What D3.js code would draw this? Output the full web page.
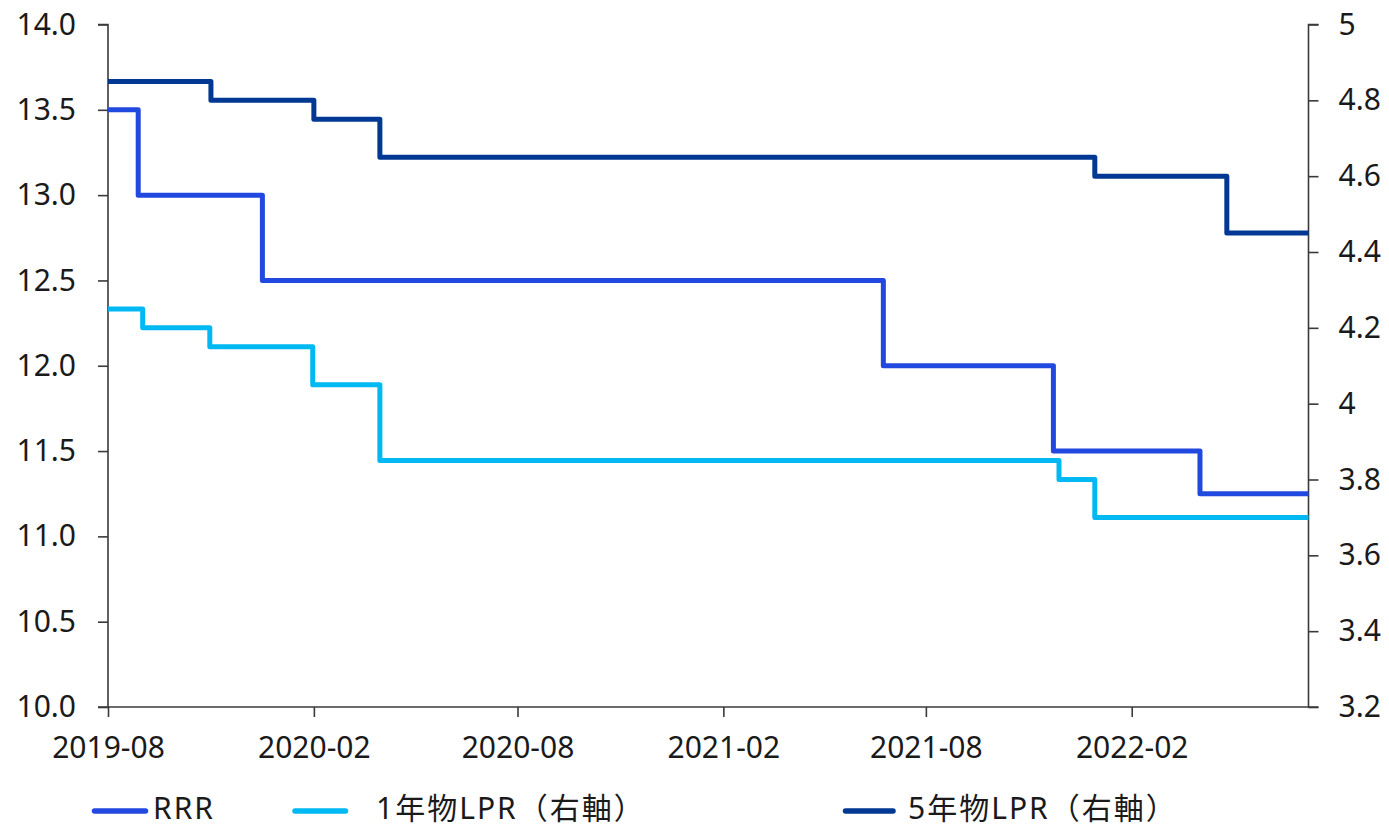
<!DOCTYPE html>
<html>
<head>
<meta charset="utf-8">
<script src="https://cdn.jsdelivr.net/npm/d3@7"></script>
<style>
  html, body { margin: 0; padding: 0; background: #fff; }
  svg { display: block; }
  text { font-family: "Noto Sans", "Noto Sans CJK JP", sans-serif; fill: #1a1a1a; }
</style>
</head>
<body>
<svg id="chart" width="1389" height="828"></svg>
<script>
// Policy rates: reserve requirement ratio (left axis) and loan prime rates (right axis).
// Each series lists the dates where the level changes and the level from that date on.
const periodStart = "2019-08-01";
const periodEnd = "2022-07-09";

const rrrDates  = ["2019-08-01", "2019-08-28", "2019-12-17", "2021-06-24", "2021-11-23", "2022-04-03"];
const rrrValues = [13.5, 13.0, 12.5, 12.0, 11.5, 11.25];

const lpr1yDates  = ["2019-08-01", "2019-09-01", "2019-10-31", "2020-01-31", "2020-03-31", "2021-11-28", "2021-12-30"];
const lpr1yValues = [4.25, 4.20, 4.15, 4.05, 3.85, 3.80, 3.70];

const lpr5yDates  = ["2019-08-01", "2019-11-01", "2020-02-01", "2020-03-31", "2021-12-30", "2022-04-27"];
const lpr5yValues = [4.85, 4.80, 4.75, 4.65, 4.60, 4.45];

const leftTicks  = [10.0, 10.5, 11.0, 11.5, 12.0, 12.5, 13.0, 13.5, 14.0];
const rightTicks = [3.2, 3.4, 3.6, 3.8, 4.0, 4.2, 4.4, 4.6, 4.8, 5.0];
const xTicks = ["2019-08-01", "2020-02-01", "2020-08-01", "2021-02-01", "2021-08-01", "2022-02-01"];

const seriesNames = ["RRR", "1年物LPR（右軸）", "5年物LPR（右軸）"];

const parse = d3.timeParse("%Y-%m-%d");

const margin = { top: 24.5, right: 80.5, bottom: 121, left: 108 };
const W = 1389, H = 828;
const innerW = W - margin.left - margin.right;
const innerH = H - margin.top - margin.bottom;

const svg = d3.select("#chart");
const g = svg.append("g").attr("transform", `translate(${margin.left},${margin.top})`);

const x = d3.scaleTime()
  .domain([parse(periodStart), parse(periodEnd)])
  .range([0, innerW]);
const yLeft = d3.scaleLinear().domain([10, 14]).range([innerH, 0]);
const yRight = d3.scaleLinear().domain([3.2, 5]).range([innerH, 0]);

// Build step series: each level holds until the next change, last one runs to the period end.
function stepSeries(dates, values) {
  const pts = dates.map((d, i) => ({ date: parse(d), value: values[i] }));
  pts.push({ date: parse(periodEnd), value: values[values.length - 1] });
  return pts;
}

const series = [
  { name: seriesNames[0], data: stepSeries(rrrDates, rrrValues), y: yLeft, color: "#2149e0" },
  { name: seriesNames[1], data: stepSeries(lpr1yDates, lpr1yValues), y: yRight, color: "#00b9f2" },
  { name: seriesNames[2], data: stepSeries(lpr5yDates, lpr5yValues), y: yRight, color: "#013893" }
];

// Axes
const axisColor = "#3a3a3a";
const fontSize = 30;

const gLeft = g.append("g")
  .call(d3.axisLeft(yLeft).tickValues(leftTicks).tickFormat(d3.format(".1f")).tickSize(10).tickPadding(22));
const gRight = g.append("g")
  .attr("transform", `translate(${innerW},0)`)
  .call(d3.axisRight(yRight).tickValues(rightTicks).tickFormat(d3.format("")).tickSize(10).tickPadding(20));
const gBottom = g.append("g")
  .attr("transform", `translate(0,${innerH})`)
  .call(d3.axisBottom(x).tickValues(xTicks.map(parse)).tickFormat(d3.timeFormat("%Y-%m")).tickSize(10).tickPadding(20));

[gLeft, gRight, gBottom].forEach(ax => {
  ax.select(".domain").attr("stroke", axisColor).attr("stroke-width", 1.6);
  ax.selectAll(".tick line").attr("stroke", axisColor).attr("stroke-width", 1.6);
  ax.selectAll(".tick text")
    .attr("fill", "#1a1a1a")
    .style("font-size", fontSize + "px")
    .style("font-family", '"Noto Sans", "Noto Sans CJK JP", sans-serif');
});
// Plain axis lines with end stubs matching the tick length
gBottom.select(".domain").attr("d", `M0,0H${innerW}`);
gLeft.select(".domain").attr("d", `M-10,${innerH}H0V0H-10`);
gRight.select(".domain").attr("d", `M10,${innerH}H0V0H10`);

// Lines
series.forEach(s => {
  const line = d3.line()
    .x(d => x(d.date))
    .y(d => s.y(d.value))
    .curve(d3.curveStepAfter);
  g.append("path")
    .datum(s.data)
    .attr("fill", "none")
    .attr("stroke", s.color)
    .attr("stroke-width", 5)
    .attr("stroke-linejoin", "round")
    .attr("d", line);
});

// Legend
const legendY = 811;
const legendItems = [
  { x1: 94.5, x2: 145.5, tx: 153 },
  { x1: 295, x2: 345.5, tx: 376 },
  { x1: 845.5, x2: 893, tx: 908 }
];
const legend = svg.append("g");
series.forEach((s, i) => {
  const it = legendItems[i];
  legend.append("line")
    .attr("x1", it.x1).attr("x2", it.x2)
    .attr("y1", legendY).attr("y2", legendY)
    .attr("stroke", s.color)
    .attr("stroke-width", 5.5)
    .attr("stroke-linecap", "round");
  legend.append("text")
    .attr("x", it.tx)
    .attr("y", legendY + 8)
    .style("font-size", fontSize + "px")
    .style("letter-spacing", "2px")
    .text(s.name);
});
</script>
</body>
</html>
